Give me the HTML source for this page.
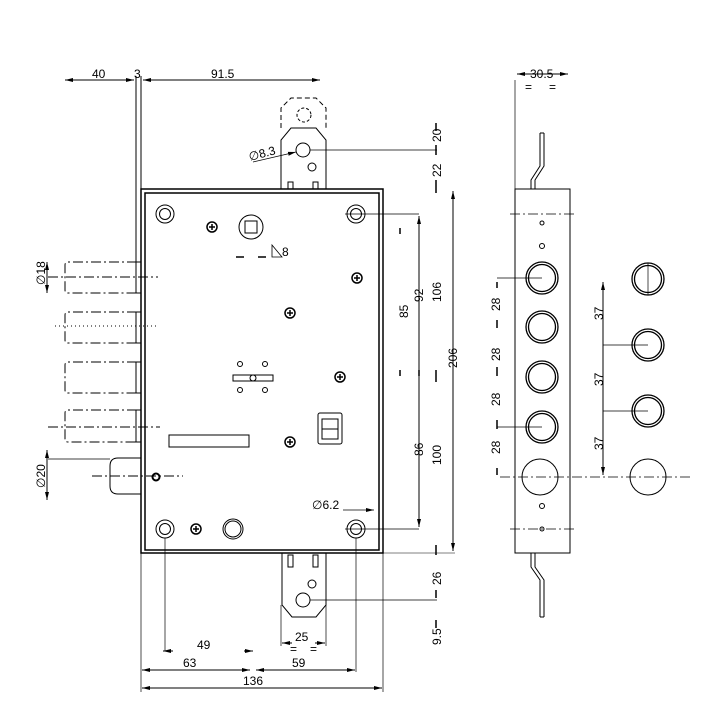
<!DOCTYPE html>
<html><head><meta charset="utf-8"><style>
html,body{margin:0;padding:0;background:#fff;}
svg{display:block;}
text{font-family:"Liberation Sans",sans-serif;font-size:12px;fill:#000;}
</style></head><body>
<svg width="715" height="715" viewBox="0 0 715 715" xmlns="http://www.w3.org/2000/svg">
<defs>
<marker id="a" markerWidth="8" markerHeight="6" refX="8" refY="3" orient="auto-start-reverse" markerUnits="userSpaceOnUse"><path d="M0,1 L8,3 L0,5z" fill="#000"/></marker>
</defs>
<g fill="none" stroke="#000" stroke-width="1">
<!-- top dims -->
<line x1="65" y1="80" x2="134" y2="80" marker-end="url(#a)" marker-start="url(#a)"/>
<line x1="143" y1="80" x2="320" y2="80" marker-start="url(#a)" marker-end="url(#a)"/>
<line x1="136" y1="76" x2="136" y2="262"/>
<line x1="141" y1="76" x2="141" y2="189"/>
<!-- main body -->
<rect x="141" y="189" width="242" height="364" stroke-width="1.5"/>
<rect x="145" y="193" width="234" height="357" stroke-width="1.5"/>
<!-- top plate -->
<path d="M281,189 V140 L291,128 H316 L326,140 V189"/>
<path d="M281,128 V108 L291,98 H316 L326,108 V128" stroke-dasharray="5,3"/>
<circle cx="304" cy="115" r="7" stroke-dasharray="3,2"/>
<circle cx="303" cy="150" r="7"/>
<circle cx="312" cy="167" r="4"/>
<rect x="288" y="182" width="5" height="7"/><rect x="313" y="182" width="5" height="7"/>
<line x1="310" y1="150" x2="437" y2="150" stroke-width="0.7"/>
<line x1="253" y1="162" x2="296" y2="152" marker-end="url(#a)" stroke-width="0.7"/>
<!-- bottom plate -->
<path d="M282,553 V605 L292,617 H316 L326,605 V553"/>
<rect x="288" y="555" width="5" height="12"/><rect x="313" y="555" width="5" height="12"/>
<circle cx="303" cy="600" r="7"/>
<circle cx="312" cy="584" r="4"/>
<line x1="310" y1="600" x2="437" y2="600" stroke-width="0.7"/>
<!-- bolts -->
<g stroke-dasharray="10,3,2,3">
<path d="M137,262 H68 Q65,262 65,265 V290 Q65,293 68,293 H137"/>
<path d="M137,312 H68 Q65,312 65,315 V340 Q65,343 68,343 H137"/>
<path d="M137,362 H68 Q65,362 65,365 V390 Q65,393 68,393 H137"/>
<path d="M137,410 H68 Q65,410 65,413 V439 Q65,442 68,442 H137"/>
<line x1="48" y1="277" x2="158" y2="277"/>
<line x1="55" y1="326" x2="158" y2="326" stroke-dasharray="1,3"/>
<line x1="48" y1="427" x2="160" y2="427"/>
<line x1="92" y1="476" x2="183" y2="476"/>
</g>
<rect x="136" y="262" width="5" height="31"/>
<rect x="136" y="312" width="5" height="31"/>
<rect x="136" y="362" width="5" height="31"/>
<rect x="136" y="410" width="5" height="32"/>
<path d="M141,458 H118 Q110,458 110,466 V486 Q110,494 118,494 H141"/>
<line x1="48" y1="459" x2="110" y2="459" stroke-width="0.7"/>
<line x1="47" y1="262" x2="47" y2="293" marker-start="url(#a)" marker-end="url(#a)"/>
<line x1="47" y1="450" x2="47" y2="500" marker-start="url(#a)" marker-end="url(#a)"/>
<circle cx="156" cy="477" r="3.5" stroke-width="2"/>
<!-- corner holes -->
<g>
<circle cx="165" cy="214" r="9"/><circle cx="165" cy="214" r="5.5"/>
<circle cx="356" cy="214" r="9"/><circle cx="356" cy="214" r="5.5"/>
<circle cx="165" cy="529" r="9"/><circle cx="165" cy="529" r="5.5"/>
<circle cx="356" cy="529" r="9"/><circle cx="356" cy="529" r="5.5"/>
</g>
<line x1="345" y1="214" x2="419" y2="214" stroke-width="0.7"/>
<line x1="345" y1="529" x2="419" y2="529" stroke-width="0.7"/>
<line x1="165" y1="538" x2="165" y2="651" stroke-width="0.7"/>
<line x1="356" y1="538" x2="356" y2="672" stroke-width="0.7"/>
<!-- screws -->
<g stroke-width="1.5">
<circle cx="212" cy="227" r="5"/><circle cx="290" cy="313" r="5"/><circle cx="340" cy="377" r="5"/><circle cx="290" cy="442" r="5"/><circle cx="196" cy="529" r="5"/><circle cx="357" cy="278" r="5"/>
</g>
<g stroke-width="1.5">
<path d="M209,227h6M212,224v6M287,313h6M290,310v6M337,377h6M340,374v6M287,442h6M290,439v6M193,529h6M196,526v6M354,278h6M357,275v6"/>
</g>
<!-- spindle -->
<circle cx="251" cy="227" r="12"/>
<rect x="245" y="221" width="12" height="12"/>
<line x1="236" y1="257" x2="244" y2="257" stroke-width="1.5"/>
<line x1="258" y1="257" x2="266" y2="257" stroke-width="1.5"/>
<path d="M272,245 V257 H282 z" stroke-width="0.8"/>
<!-- cylinder -->
<rect x="233" y="375" width="40" height="6"/>
<circle cx="253" cy="378" r="3"/>
<circle cx="240" cy="364" r="2.5"/><circle cx="265" cy="364" r="2.5"/>
<circle cx="240" cy="390" r="2.5"/><circle cx="265" cy="390" r="2.5"/>
<!-- slot -->
<rect x="169" y="435" width="80" height="12"/>
<!-- switch -->
<rect x="318" y="413" width="24" height="31" rx="2"/>
<rect x="322" y="419" width="16" height="20"/>
<line x1="322" y1="429" x2="338" y2="429"/>
<circle cx="233" cy="529" r="10"/><circle cx="233" cy="529" r="8"/>
<line x1="343" y1="510" x2="374" y2="510" marker-end="url(#a)" stroke-width="0.7"/>
<!-- right dims -->
<line x1="419" y1="216" x2="419" y2="527" marker-start="url(#a)" marker-end="url(#a)"/>
<line x1="453" y1="191" x2="453" y2="551" marker-start="url(#a)" marker-end="url(#a)"/>
<line x1="383" y1="553" x2="455" y2="553" stroke-width="0.5"/>
<g stroke-width="1.5">
<path d="M436,123v8M436,145v10M436,180v13M436,370v12M436,545v10M436,590v8M436,620v8M400,228v6M400,370v6M419,370v6"/>
</g>
<!-- bottom dims -->
<line x1="141" y1="553" x2="141" y2="692" stroke-width="0.7"/>
<line x1="383" y1="553" x2="383" y2="692" stroke-width="0.7"/>
<line x1="281" y1="605" x2="281" y2="646" stroke-width="0.7"/>
<line x1="326" y1="605" x2="326" y2="646" stroke-width="0.7"/>
<line x1="163" y1="651" x2="173" y2="651" marker-start="url(#a)"/>
<line x1="244" y1="651" x2="253" y2="651" marker-end="url(#a)"/>
<line x1="142" y1="670" x2="250" y2="670" marker-start="url(#a)" marker-end="url(#a)"/>
<line x1="256" y1="670" x2="355" y2="670" marker-start="url(#a)" marker-end="url(#a)"/>
<line x1="142" y1="688" x2="382" y2="688" marker-start="url(#a)" marker-end="url(#a)"/>
<line x1="282" y1="643" x2="292" y2="643" marker-start="url(#a)"/>
<line x1="315" y1="643" x2="325" y2="643" marker-end="url(#a)"/>
<!-- side view -->
<rect x="515" y="189" width="55" height="364"/>
<path d="M531,189 V180 L540,166 V133 M535,189 V180 L544,166 V133 M540,133 H544"/>
<path d="M531,553 V567 L540,580 V617 M535,553 V567 L544,580 V617 M540,617 H544"/>
<line x1="515" y1="80" x2="515" y2="189" stroke-width="0.7"/>
<line x1="517" y1="74" x2="568" y2="74" marker-start="url(#a)" marker-end="url(#a)"/>
<g stroke-dasharray="10,3,2,3" stroke-width="0.8">
<line x1="510" y1="214" x2="575" y2="214"/>
<line x1="510" y1="529" x2="575" y2="529"/>
<line x1="500" y1="477" x2="690" y2="477"/>
</g>
<circle cx="542" cy="223" r="2"/><circle cx="542" cy="246" r="2.5"/>
<circle cx="542" cy="506" r="2.5"/><circle cx="542" cy="529" r="2"/>
<g stroke-width="1.3">
<circle cx="542" cy="278" r="16"/><circle cx="542" cy="278" r="13.5"/>
<circle cx="542" cy="327" r="16"/><circle cx="542" cy="327" r="13.5"/>
<circle cx="542" cy="377" r="16"/><circle cx="542" cy="377" r="13.5"/>
<circle cx="542" cy="427" r="16"/><circle cx="542" cy="427" r="13.5"/>
<circle cx="648" cy="279" r="16"/><circle cx="648" cy="279" r="13.5"/>
<circle cx="648" cy="345" r="16"/><circle cx="648" cy="345" r="13.5"/>
<circle cx="648" cy="411" r="16"/><circle cx="648" cy="411" r="13.5"/>
</g>
<circle cx="540" cy="477" r="18"/>
<circle cx="648" cy="477" r="18"/>
<line x1="497" y1="278" x2="542" y2="278" stroke-width="0.7"/>
<line x1="497" y1="427" x2="542" y2="427" stroke-width="0.7"/>
<line x1="603" y1="345" x2="648" y2="345" stroke-width="0.7"/>
<line x1="603" y1="411" x2="648" y2="411" stroke-width="0.7"/>
<line x1="648" y1="263" x2="648" y2="295" stroke-width="0.7"/>
<line x1="603" y1="282" x2="603" y2="475" marker-start="url(#a)" marker-end="url(#a)"/>
<g stroke-width="1.5">
<path d="M497,282v6M497,320v8M497,367v9M497,420v9M497,468v7"/>
</g>
</g>
<g>
<text x="92" y="78">40</text>
<text x="134" y="78">3</text>
<text x="211" y="78">91.5</text>
<text x="250" y="161" transform="rotate(-15 250 161)">∅8.3</text>
<text x="282" y="256">8</text>
<text x="312" y="509">∅6.2</text>
<text x="197" y="649">49</text>
<text x="183" y="667">63</text>
<text x="292" y="667">59</text>
<text x="243" y="685">136</text>
<text x="295" y="641">25</text>
<text x="290" y="653" font-size="10">=</text><text x="310" y="653" font-size="10">=</text>
<text x="530" y="78">30.5</text>
<text x="525" y="91" font-size="10">=</text><text x="549" y="91" font-size="10">=</text>
</g>
<g>
<text transform="translate(45,285) rotate(-90)">∅18</text>
<text transform="translate(45,488) rotate(-90)">∅20</text>
<text transform="translate(441,142) rotate(-90)">20</text>
<text transform="translate(441,177) rotate(-90)">22</text>
<text transform="translate(441,302) rotate(-90)">106</text>
<text transform="translate(457,368) rotate(-90)">206</text>
<text transform="translate(441,465) rotate(-90)">100</text>
<text transform="translate(441,585) rotate(-90)">26</text>
<text transform="translate(441,645) rotate(-90)">9.5</text>
<text transform="translate(423,302) rotate(-90)">92</text>
<text transform="translate(423,456) rotate(-90)">86</text>
<text transform="translate(408,318) rotate(-90)">85</text>
<text transform="translate(500,311) rotate(-90)">28</text>
<text transform="translate(500,361) rotate(-90)">28</text>
<text transform="translate(500,406) rotate(-90)">28</text>
<text transform="translate(500,454) rotate(-90)">28</text>
<text transform="translate(603,320) rotate(-90)">37</text>
<text transform="translate(603,386) rotate(-90)">37</text>
<text transform="translate(603,450) rotate(-90)">37</text>
</g>
</svg>
</body></html>
